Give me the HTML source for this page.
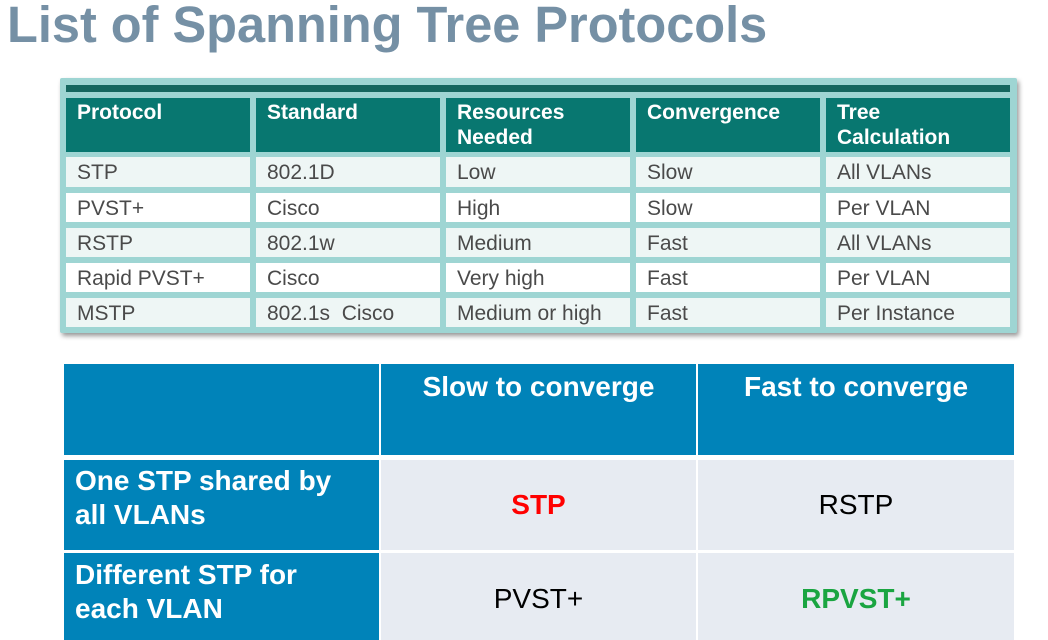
<!DOCTYPE html>
<html><head><meta charset="utf-8"><style>
body{margin:0;width:1048px;height:640px;background:#fff;position:relative;overflow:hidden;font-family:"Liberation Sans",Arial,sans-serif}
.t{position:absolute;left:7px;top:-5px;font-size:51px;font-weight:bold;color:#7590a5;white-space:nowrap;transform-origin:0 0;transform:scaleX(0.99)}
.box{position:absolute;left:60px;top:78px;width:957px;height:255px;background:#9ed5d3;box-shadow:2px 3px 5px #999;border-radius:2px}
.bar{position:absolute;left:66px;top:85px;width:944px;height:7px;background:#15665f}
.c{position:absolute;box-sizing:border-box;padding-left:11px;font-size:21px;color:#4a4a4a;line-height:31px}
.h{background:#087770;color:#fff;font-weight:bold;line-height:25px;padding-top:2px}
.a{background:#eef6f5}.w{background:#fff}
.b{position:absolute;box-sizing:border-box;font-weight:bold;font-size:28px}
.bl{background:#0083b9;color:#fff}
.g{background:#e7ebf2;display:flex;align-items:center;justify-content:center;font-weight:normal}
</style></head><body>
<div class="t">List of Spanning Tree Protocols</div>
<div class="box"></div><div class="bar"></div>
<div id="tt"></div>
<script>
var cols=[66,256,446,636,826],cw=[184,184,184,184,184];
var rows=[[98,54],[157,30],[193,29],[228,29],[263,29],[298,29]];
var d=[["Protocol","Standard","Resources<br>Needed","Convergence","Tree<br>Calculation"],
["STP","802.1D","Low","Slow","All VLANs"],["PVST+","Cisco","High","Slow","Per VLAN"],
["RSTP","802.1w","Medium","Fast","All VLANs"],["Rapid PVST+","Cisco","Very high","Fast","Per VLAN"],
["MSTP","802.1s&nbsp; Cisco","Medium or high","Fast","Per Instance"]];
var h="";
for(var r=0;r<6;r++)for(var c=0;c<5;c++){
var cl=r==0?"h":(r%2?"a":"w");
h+='<div class="c '+cl+'" style="left:'+cols[c]+'px;top:'+rows[r][0]+'px;width:'+cw[c]+'px;height:'+rows[r][1]+'px">'+d[r][c]+'</div>';}
document.getElementById("tt").innerHTML=h;
</script>
<div class="b bl" style="left:64px;top:364px;width:315px;height:91px"></div>
<div class="b bl" style="left:381px;top:364px;width:315px;height:91px;text-align:center;padding-top:7px">Slow to converge</div>
<div class="b bl" style="left:698px;top:364px;width:316px;height:91px;text-align:center;padding-top:7px">Fast to converge</div>
<div class="b bl" style="left:64px;top:460px;width:315px;height:90px;padding:4px 0 0 11px;line-height:34px">One STP shared by<br>all VLANs</div>
<div class="b g" style="left:381px;top:460px;width:315px;height:90px;color:#ff0000;font-weight:bold">STP</div>
<div class="b g" style="left:698px;top:460px;width:316px;height:90px;color:#000">RSTP</div>
<div class="b bl" style="left:64px;top:553px;width:315px;height:87px;padding:5px 0 0 11px;line-height:34px">Different STP for<br>each VLAN</div>
<div class="b g" style="left:381px;top:553px;width:315px;height:87px;color:#000;padding-top:4px">PVST+</div>
<div class="b g" style="left:698px;top:553px;width:316px;height:87px;color:#1aa541;font-weight:bold;padding-top:4px">RPVST+</div>
</body></html>
